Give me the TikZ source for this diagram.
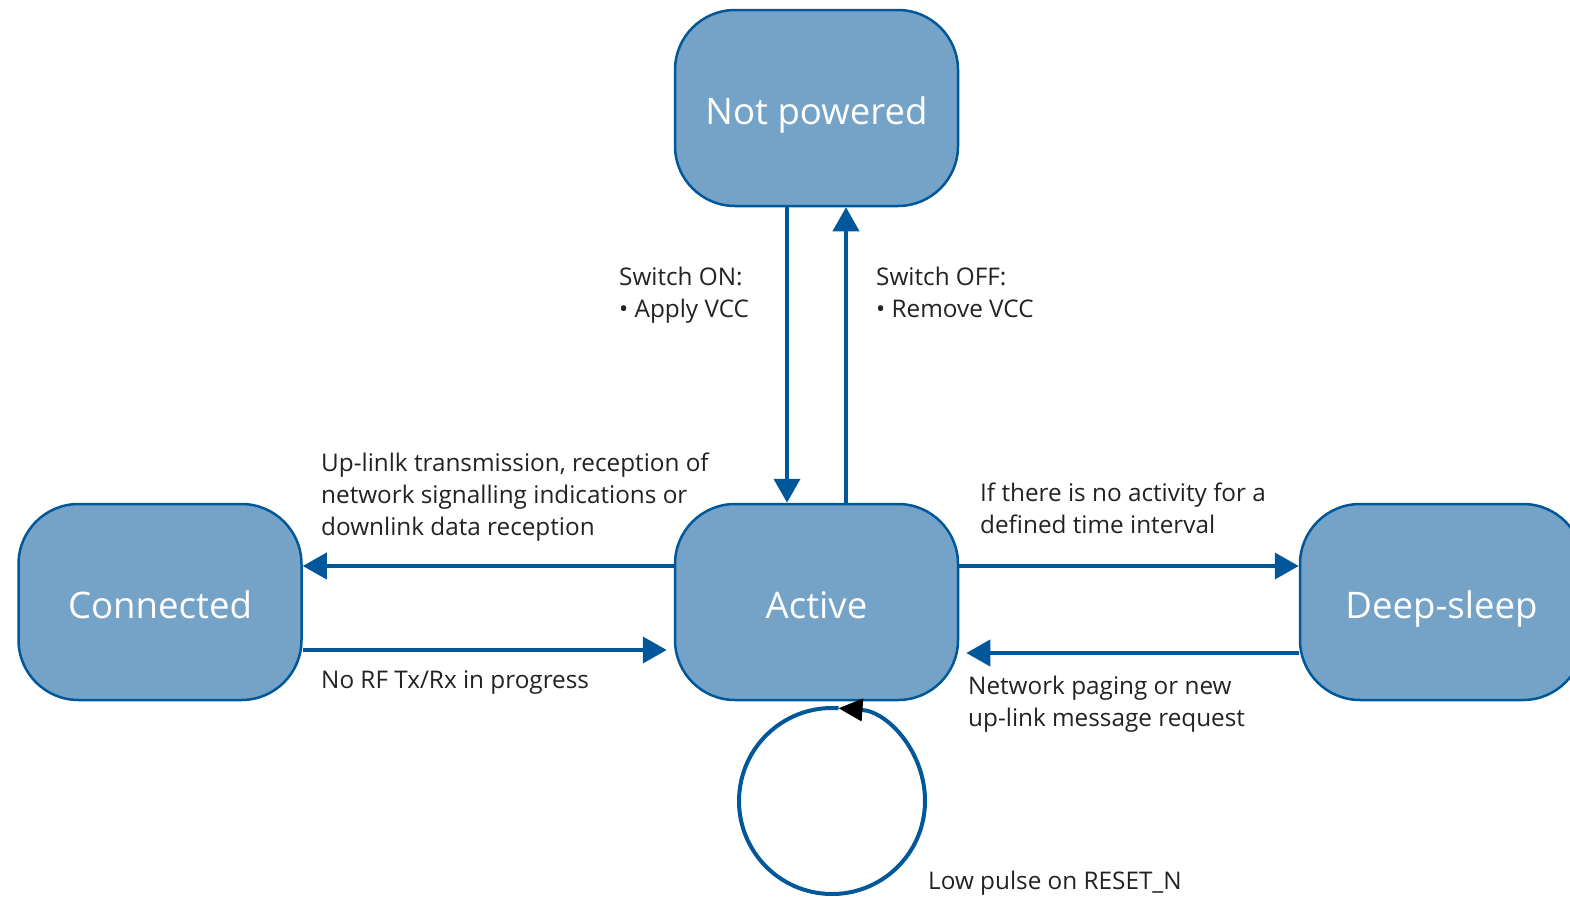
\documentclass[tikz,border=0pt]{standalone}
\usepackage{fontspec}
\setmainfont{Open Sans}
\usetikzlibrary{arrows.meta}
\definecolor{boxfill}{HTML}{74A3C7}
\definecolor{boxline}{HTML}{00579A}
\definecolor{txt}{HTML}{222222}
\begin{document}
\begin{tikzpicture}[x=1pt,y=-1pt,
 state/.style={draw=boxline, fill=boxfill, line width=2.5pt, rounded corners=60pt,
   minimum width=283pt, minimum height=196pt, text=white, text height=33pt, text depth=0pt,
   font=\fontsize{36.6}{40}\selectfont, inner sep=0pt},
 conn/.style={draw=boxline, line width=4pt, -{Triangle[width=26pt,length=24pt]}},
 lbl/.style={text=txt, font=\fontsize{24.3}{32}\selectfont, align=left, inner sep=0pt, anchor=west}]
\useasboundingbox (0,0) rectangle (1570,902);
\clip (0,0) rectangle (1570,902);
\node[state] (np) at (816.5,108) {Not powered};
\node[state] (act) at (816.5,602) {Active};
\node[state] (con) at (160,602) {Connected};
\node[state] (ds) at (1441.5,602) {Deep-sleep};
% vertical
\draw[conn] ([xshift=-29.5pt]np.south) -- ([xshift=-29.5pt]act.north);
\draw[conn] ([xshift=29.5pt]act.north) -- ([xshift=29.5pt]np.south);
% horizontal left
\draw[conn] ([yshift=36pt]act.west) -- ([yshift=36pt]con.east);
\draw[conn, shorten >=7pt] ([yshift=-48pt]con.east) -- ([yshift=-48pt]act.west);
% horizontal right
\draw[conn] ([yshift=36pt]act.east) -- ([yshift=36pt]ds.west);
\draw[conn, shorten >=7pt] ([yshift=-51pt]ds.west) -- ([yshift=-51pt]act.east);
% self loop
\draw[draw=boxline, line width=4pt, -{Triangle[color=black,width=22pt,length=24pt]}]
  (832,801) ++(274:93) arc[start angle=634, end angle=274, radius=93];
% labels
\node[lbl] (l1) at (619,295) {Switch ON:\\• Apply VCC};
\node[lbl] (l2) at (876,292) {Switch OFF:\\• Remove VCC};
\node[lbl] (l3) at (321,497) {Up-linlk transmission, reception of\\network signalling indications or\\downlink data reception};
\node[lbl] (l4) at (321,682) {No RF Tx/Rx in progress};
\node[lbl] (l5) at (980,508) {If there is no activity for a\\defined time interval};
\node[lbl] (l6) at (968,704) {Network paging or new\\up-link message request};
\node[lbl] (l7) at (928,883) {Low pulse on RESET\_N};
\end{tikzpicture}
\end{document}
